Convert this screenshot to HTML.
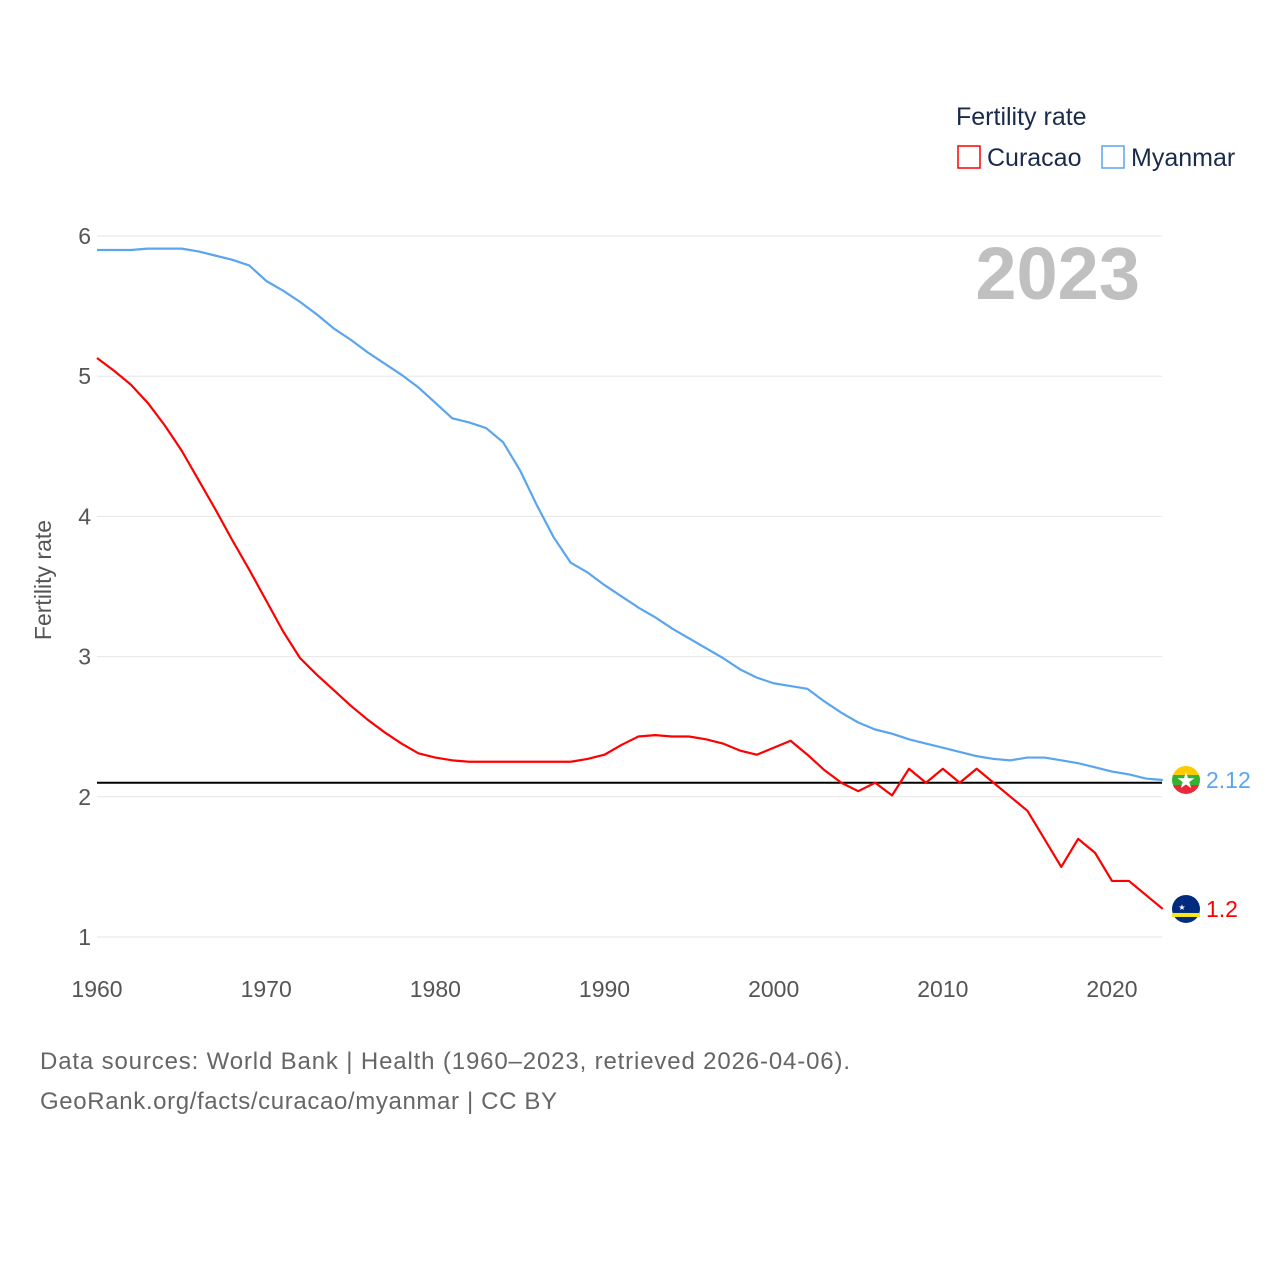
<!DOCTYPE html>
<html><head><meta charset="utf-8"><style>
body{margin:0;background:#fff;}
svg text{font-family:"Liberation Sans",sans-serif;}
</style></head><body>
<svg id="c" width="1280" height="1280">
<text x="956" y="125" font-size="25" fill="#1a2b4a">Fertility rate</text>
<rect x="958" y="146" width="22" height="22" fill="none" stroke="#ff0000" stroke-width="1.5"/>
<text x="987" y="166" font-size="25" fill="#1a2b4a">Curacao</text>
<rect x="1102" y="146" width="22" height="22" fill="none" stroke="#5aa5ee" stroke-width="1.5"/>
<text x="1131" y="166" font-size="25" fill="#1a2b4a">Myanmar</text>
<text x="1140" y="299" font-size="74" font-weight="bold" fill="#c0c0c0" text-anchor="end">2023</text>
<text transform="translate(51,580) rotate(-90)" font-size="23" fill="#555" text-anchor="middle">Fertility rate</text>
<g id="grid"></g><g id="lines"></g>
<text x="40" y="1069" font-size="24" fill="#666" textLength="810" lengthAdjust="spacing">Data sources: World Bank | Health (1960–2023, retrieved 2026-04-06).</text>
<text x="40" y="1109" font-size="24" fill="#666" textLength="517" lengthAdjust="spacing">GeoRank.org/facts/curacao/myanmar | CC BY</text>
</svg>
<script>
const years=[];for(let y=1960;y<=2023;y++)years.push(y);
const myanmar=[5.90,5.90,5.90,5.91,5.91,5.91,5.89,5.86,5.83,5.79,5.68,5.61,5.53,5.44,5.34,5.26,5.17,5.09,5.01,4.92,4.81,4.70,4.67,4.63,4.53,4.33,4.08,3.85,3.67,3.60,3.51,3.43,3.35,3.28,3.20,3.13,3.06,2.99,2.91,2.85,2.81,2.79,2.77,2.68,2.60,2.53,2.48,2.45,2.41,2.38,2.35,2.32,2.29,2.27,2.26,2.28,2.28,2.26,2.24,2.21,2.18,2.16,2.13,2.12];
const curacao=[5.13,5.04,4.94,4.81,4.65,4.47,4.26,4.05,3.83,3.62,3.40,3.18,2.99,2.87,2.76,2.65,2.55,2.46,2.38,2.31,2.28,2.26,2.25,2.25,2.25,2.25,2.25,2.25,2.25,2.27,2.30,2.37,2.43,2.44,2.43,2.43,2.41,2.38,2.33,2.30,2.35,2.40,2.30,2.19,2.10,2.04,2.10,2.01,2.20,2.10,2.20,2.10,2.20,2.10,2.00,1.90,1.70,1.50,1.70,1.60,1.40,1.40,1.30,1.20];
const yTicks=[1,2,3,4,5,6];
const xTicks=[1960,1970,1980,1990,2000,2010,2020];
const replacement=2.1;
const NS="http://www.w3.org/2000/svg";
const X=y=>97+(y-1960)*(1015/60);
const Y=v=>937-(v-1)*140.2;
function mk(t,a,p){const e=document.createElementNS(NS,t);for(const k in a)e.setAttribute(k,a[k]);p.appendChild(e);return e;}
const g=document.getElementById('grid'),L=document.getElementById('lines');
yTicks.forEach(v=>{
 const l=mk('line',{x1:97,x2:1162,y1:Y(v),y2:Y(v),stroke:'#e6e6e6','stroke-width':1},g);
 
 
 const t=mk('text',{x:91,y:Y(v)+8,'font-size':23,fill:'#555','text-anchor':'end'},g);t.textContent=v;
 
 
});
xTicks.forEach(v=>{
 const t=mk('text',{x:X(v),y:997,'font-size':23,fill:'#555','text-anchor':'middle'},g);t.textContent=v;
 
 
});
const rl=mk('line',{x1:97,x2:1162,y1:Y(replacement),y2:Y(replacement),stroke:'#000','stroke-width':2},L);


function series(arr,col,name){
 const p=mk('polyline',{points:arr.map((v,i)=>X(years[i])+','+Y(v)).join(' '),fill:'none',stroke:col,'stroke-width':2.2,'stroke-linejoin':'round'},L);
 
 
}
series(myanmar,'#5aa5ee','myanmar');
series(curacao,'#ff0000','curacao');
const lm=myanmar[myanmar.length-1],lc=curacao[curacao.length-1];
const fx=1186;
const fm=mk('g',{},L);


mk('clipPath',{id:'cm'},fm).appendChild(document.createElementNS(NS,'circle')).setAttribute('r',14);
document.querySelector('#cm circle').setAttribute('cx',fx);document.querySelector('#cm circle').setAttribute('cy',Y(lm));
const gm=mk('g',{'clip-path':'url(#cm)'},fm);
mk('rect',{x:fx-15,y:Y(lm)-15,width:30,height:10,fill:'#fecb00'},gm);
mk('rect',{x:fx-15,y:Y(lm)-5,width:30,height:10,fill:'#34b233'},gm);
mk('rect',{x:fx-15,y:Y(lm)+5,width:30,height:10,fill:'#ea2839'},gm);
mk('text',{x:fx,y:Y(lm)+8,'font-size':22,fill:'#fff','text-anchor':'middle'},gm).textContent='★';
const tm=mk('text',{x:1206,y:Y(lm)+8,'font-size':23,fill:'#5aa5ee'},L);tm.textContent=lm.toFixed(2);


const fc=mk('g',{},L);


mk('circle',{cx:fx,cy:Y(lc),r:14,fill:'#002b7f'},fc);
mk('rect',{x:fx-14,y:Y(lc)+4,width:28,height:4,fill:'#f9e814'},fc);
mk('text',{x:fx-4,y:Y(lc)+1,'font-size':8,fill:'#fff','text-anchor':'middle'},fc).textContent='★';
const tc=mk('text',{x:1206,y:Y(lc)+8,'font-size':23,fill:'#ff0000'},L);tc.textContent=lc.toFixed(1);


</script>
</body></html>
